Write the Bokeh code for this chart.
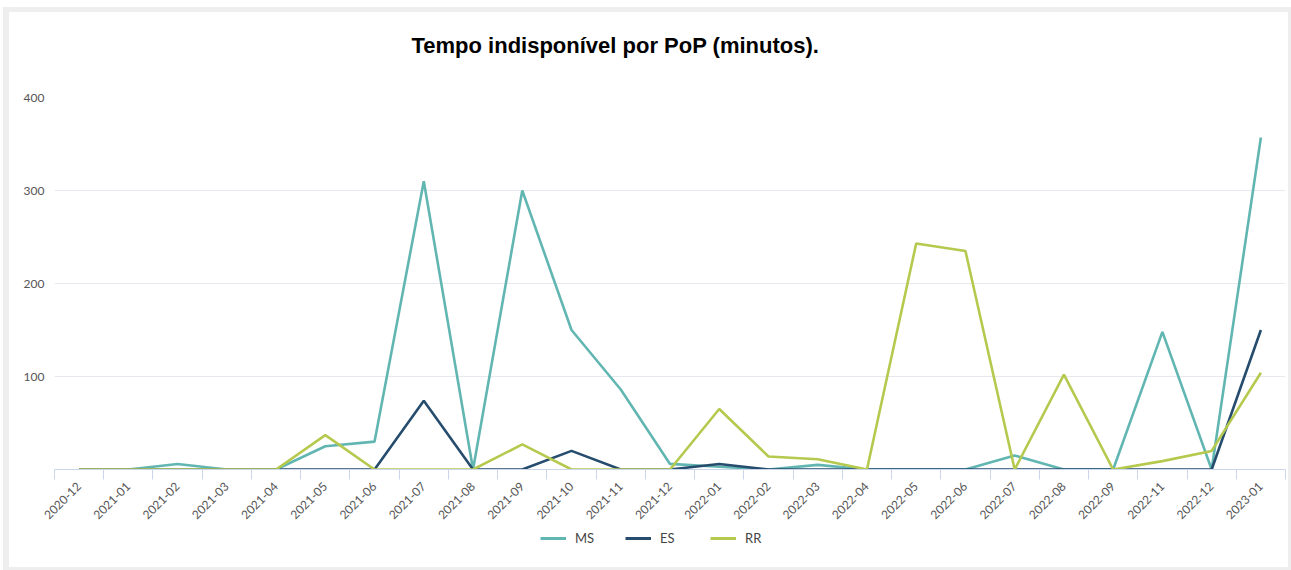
import math
from bokeh.plotting import figure
from bokeh.layouts import column
from bokeh.models import FixedTicker, Legend, LegendItem, Range1d, Title
from bokeh.embed import file_html
from bokeh.resources import INLINE

categories = ["2020-12", "2021-01", "2021-02", "2021-03", "2021-04", "2021-05", "2021-06",
              "2021-07", "2021-08", "2021-09", "2021-10", "2021-11", "2021-12",
              "2022-01", "2022-02", "2022-03", "2022-04", "2022-05", "2022-06",
              "2022-07", "2022-08", "2022-09", "2022-11", "2022-12", "2023-01"]

ms = [0, 0, 6, 0, 0, 25, 30, 310, 0, 300, 150, 86, 6, 3, 0, 5, 0, 0, 0, 15, 0, 0, 148, 0, 357]
es = [0, 0, 0, 0, 0, 0, 0, 74, 0, 0, 20, 0, 0, 6, 0, 0, 0, 0, 0, 0, 0, 0, 0, 0, 150]
rr = [0, 0, 0, 0, 0, 37, 0, 0, 0, 27, 0, 0, 0, 65, 14, 11, 0, 243, 235, 0, 102, 0, 9, 20, 104]

y_ticks = [0, 100, 200, 300, 400]

series = [("MS", ms, "#62b6b2"), ("ES", es, "#264c6e"), ("RR", rr, "#b6c94f")]

x = list(range(len(categories)))
GRAY = "#eeeeee"

# ---- title strip ----
pt = figure(width=1279, height=75, output_backend="svg", toolbar_location=None,
            x_axis_location=None, y_axis_location=None,
            min_border_left=0, min_border_right=0, min_border_top=0, min_border_bottom=0,
            border_fill_color="white", background_fill_color="white")
pt.styles = {"border-style": "solid", "border-color": GRAY,
             "border-width": "5px 3px 0px 6px", "box-sizing": "content-box"}
pt.outline_line_color = None
pt.xgrid.visible = False
pt.ygrid.visible = False
title = Title(text="Tempo indisponível por PoP (minutos).", align="left",
              text_font="Liberation Sans", text_font_size="22px", text_font_style="bold",
              text_color="#000000", standoff=36, offset=357)
pt.add_layout(title, "above")

# ---- main chart ----
p = figure(width=1279, height=440, output_backend="svg", toolbar_location=None,
           x_range=Range1d(-0.5, len(categories) - 0.5), y_range=Range1d(0, 400),
           min_border_left=45, min_border_right=12, min_border_top=10, min_border_bottom=58,
           border_fill_color="white", background_fill_color="white")
p.styles = {"border-style": "solid", "border-color": GRAY,
            "border-width": "0px 3px 0px 6px", "box-sizing": "content-box"}
p.outline_line_color = None

for name, vals, col in series:
    p.line(x, vals, line_color=col, line_width=2.6)

xa = p.xaxis[0]
xa.ticker = FixedTicker(ticks=x, minor_ticks=[i - 0.5 for i in range(len(categories) + 1)])
xa.major_label_overrides = {i: c for i, c in enumerate(categories)}
xa.major_label_orientation = math.pi / 4
xa.major_tick_line_color = None
xa.major_tick_out = 0
xa.major_tick_in = 0
xa.minor_tick_line_color = "#ccd6eb"
xa.minor_tick_out = 10
xa.minor_tick_in = 0
xa.axis_line_color = "#ccd6eb"
xa.axis_line_width = 1
xa.major_label_text_font = "Lato"
xa.major_label_text_font_size = "12px"
xa.major_label_text_color = "#555555"
xa.major_label_standoff = 5

ya = p.yaxis[0]
ya.ticker = FixedTicker(ticks=y_ticks)
ya.major_label_overrides = {0: ""}
ya.axis_line_color = None
ya.major_tick_line_color = None
ya.minor_tick_line_color = None
ya.major_tick_out = 0
ya.major_tick_in = 0
ya.major_label_standoff = 10
ya.major_label_text_font = "Lato"
ya.major_label_text_font_size = "12px"
ya.major_label_text_color = "#555555"

p.xgrid.grid_line_color = None
p.ygrid.grid_line_color = "#e6e9ee"
p.ygrid.grid_line_width = 1

# ---- legend strip (same series, lines kept outside its visible range) ----
pl = figure(width=1279, height=40, output_backend="svg", toolbar_location=None,
            x_range=Range1d(-0.5, len(categories) - 0.5), y_range=Range1d(-2000, -1999),
            x_axis_location=None, y_axis_location=None,
            min_border_left=0, min_border_right=0, min_border_top=0, min_border_bottom=0,
            border_fill_color="white", background_fill_color="white")
pl.styles = {"border-style": "solid", "border-color": GRAY,
             "border-width": "0px 3px 3px 6px", "box-sizing": "content-box"}
pl.outline_line_color = None
pl.xgrid.visible = False
pl.ygrid.visible = False

items = []
for name, vals, col in series:
    r = pl.line(x, vals, line_color=col, line_width=3)
    items.append(LegendItem(label=name, renderers=[r]))

legend = Legend(items=items, orientation="horizontal", location=(486, 24),
                glyph_width=26, glyph_height=14, label_standoff=9, spacing=30,
                label_text_font="Lato", label_text_font_size="13px", label_text_color="#444444",
                border_line_color=None, background_fill_alpha=0, padding=3, margin=0)
pl.add_layout(legend, "center")

layout = column(pt, p, pl, spacing=0, styles={"position": "relative", "left": "3px", "top": "7px"})

open("out.html", "w").write(file_html(layout, INLINE))
